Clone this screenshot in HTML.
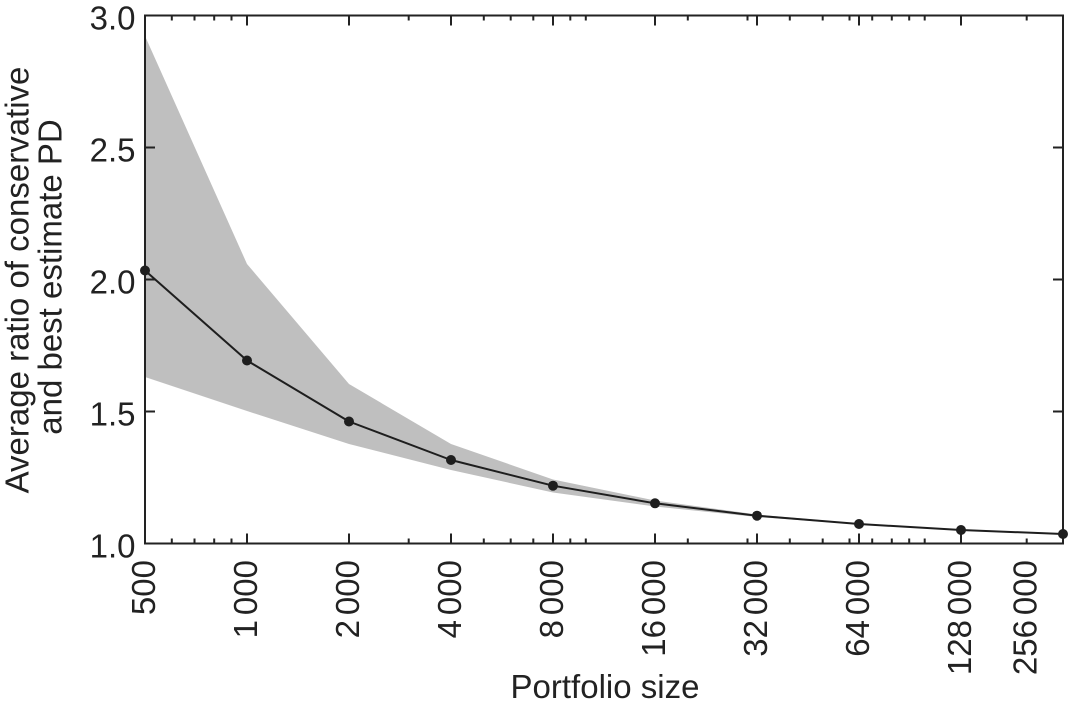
<!DOCTYPE html>
<html>
<head>
<meta charset="utf-8">
<style>
html, body { margin: 0; padding: 0; background: #fff; }
svg { display: block; }
text { font-family: "Liberation Sans", Arial, sans-serif; fill: #222; }
</style>
</head>
<body>
<svg width="1068" height="709" viewBox="0 0 1068 709" xmlns="http://www.w3.org/2000/svg">
<polygon fill="#bfbfbf" points="145,36 247,264 349,384 451,444 553,479.5 655,500.5 757,514.5 859,523.5 961,529.5 1063,533.5 1063,534.5 961,530.5 859,524.5 757,517 655,506.5 553,492.5 451,470 349,444 247,411 145,377"/>
<rect x="145" y="15.5" width="918" height="528" fill="none" stroke="#222" stroke-width="2"/>
<path stroke="#222" stroke-width="2" fill="none" d="M145 147.5h10M145 279.5h10M145 411.5h10M1063 147.5h-10M1063 279.5h-10M1063 411.5h-10"/>
<path stroke="#222" stroke-width="2" fill="none" d="M247 543.5v-10M349 543.5v-10M451 543.5v-10M553 543.5v-10M655 543.5v-10M757 543.5v-10M859 543.5v-10M961 543.5v-10M247 15.5v10M349 15.5v10M451 15.5v10M553 15.5v10M655 15.5v10M757 15.5v10M859 15.5v10M961 15.5v10"/>
<path stroke="#222" stroke-width="2" fill="none" d="M171.8 543.5v-5M194.5 543.5v-5M214.2 543.5v-5M231.5 543.5v-5M408.7 543.5v-5M483.8 543.5v-5M510.7 543.5v-5M533.3 543.5v-5M570.3 543.5v-5M585.8 543.5v-5M687.8 543.5v-5M747.5 543.5v-5M789.8 543.5v-5M822.7 543.5v-5M849.5 543.5v-5M872.2 543.5v-5M891.8 543.5v-5M909.2 543.5v-5M924.7 543.5v-5M1026.7 543.5v-5"/>
<path stroke="#222" stroke-width="2" fill="none" d="M171.8 15.5v5M194.5 15.5v5M214.2 15.5v5M231.5 15.5v5M408.7 15.5v5M483.8 15.5v5M510.7 15.5v5M533.3 15.5v5M570.3 15.5v5M585.8 15.5v5M687.8 15.5v5M747.5 15.5v5M789.8 15.5v5M822.7 15.5v5M849.5 15.5v5M872.2 15.5v5M891.8 15.5v5M909.2 15.5v5M924.7 15.5v5M1026.7 15.5v5"/>
<polyline fill="none" stroke="#1e1e1e" stroke-width="2" stroke-linejoin="round" points="145,270.5 247,360.5 349,421.5 451,460 553,485.7 655,503.3 757,515.7 859,524 961,530 1063,534"/>
<g fill="#1e1e1e">
<circle cx="145" cy="270.5" r="5"/>
<circle cx="247" cy="360.5" r="5"/>
<circle cx="349" cy="421.5" r="5"/>
<circle cx="451" cy="460" r="5"/>
<circle cx="553" cy="485.7" r="5"/>
<circle cx="655" cy="503.3" r="5"/>
<circle cx="757" cy="515.7" r="5"/>
<circle cx="859" cy="524" r="5"/>
<circle cx="961" cy="530" r="5"/>
<circle cx="1063" cy="534" r="5"/>
</g>
<g font-size="33" text-anchor="end">
<text x="135.5" y="29.5">3.0</text>
<text x="135.5" y="161.5">2.5</text>
<text x="135.5" y="293.5">2.0</text>
<text x="135.5" y="425.5">1.5</text>
<text x="135.5" y="557.5">1.0</text>
</g>
<g font-size="33" text-anchor="end">
<text transform="translate(155,560) rotate(-90)">500</text>
<text transform="translate(257,560) rotate(-90)">1<tspan dx="5">000</tspan></text>
<text transform="translate(359,560) rotate(-90)">2<tspan dx="5">000</tspan></text>
<text transform="translate(461,560) rotate(-90)">4<tspan dx="5">000</tspan></text>
<text transform="translate(563,560) rotate(-90)">8<tspan dx="5">000</tspan></text>
<text transform="translate(665,560) rotate(-90)">16<tspan dx="5">000</tspan></text>
<text transform="translate(767,560) rotate(-90)">32<tspan dx="5">000</tspan></text>
<text transform="translate(869,560) rotate(-90)">64<tspan dx="5">000</tspan></text>
<text transform="translate(971,560) rotate(-90)">128<tspan dx="5">000</tspan></text>
<text transform="translate(1036.5,560) rotate(-90)">256<tspan dx="5">000</tspan></text>
</g>
<text x="605" y="698" font-size="33" text-anchor="middle">Portfolio size</text>
<text transform="translate(28.5,280) rotate(-90)" font-size="33" text-anchor="middle">Average ratio of conservative</text>
<text transform="translate(61.5,277) rotate(-90)" font-size="33" text-anchor="middle">and best estimate PD</text>
</svg>
</body>
</html>
